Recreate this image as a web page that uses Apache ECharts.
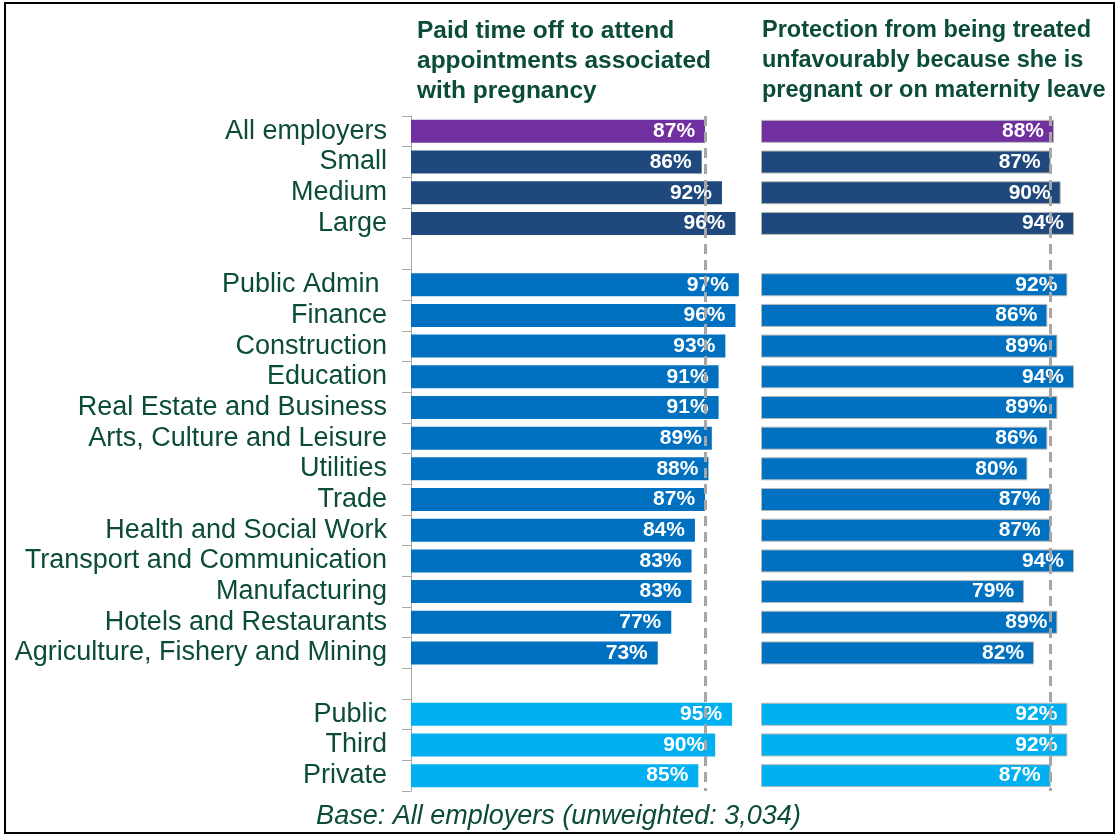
<!DOCTYPE html>
<html>
<head>
<meta charset="utf-8">
<script src="https://cdn.jsdelivr.net/npm/echarts@6/dist/echarts.min.js"></script>
<style>
html,body{margin:0;padding:0;background:#fff;}
#chart{width:1117px;height:837px;}
</style>
</head>
<body>
<div id="chart"></div>
<script>
// ---- data ----
const categories = [
  'All employers', 'Small', 'Medium', 'Large', ' ',
  'Public Admin ', 'Finance', 'Construction', 'Education', 'Real Estate and Business',
  'Arts, Culture and Leisure', 'Utilities', 'Trade', 'Health and Social Work',
  'Transport and Communication', 'Manufacturing', 'Hotels and Restaurants',
  'Agriculture, Fishery and Mining', '  ',
  'Public', 'Third', 'Private'
];
const paidTimeOff = [87, 86, 92, 96, null, 97, 96, 93, 91, 91, 89, 88, 87, 84, 83, 83, 77, 73, null, 95, 90, 85];
const protection  = [88, 87, 90, 94, null, 92, 86, 89, 94, 89, 86, 80, 87, 87, 94, 79, 89, 82, null, 92, 92, 87];
const groups      = ['all', 'size', 'size', 'size', null,
  'sector', 'sector', 'sector', 'sector', 'sector', 'sector', 'sector', 'sector', 'sector',
  'sector', 'sector', 'sector', 'sector', null, 'type', 'type', 'type'];
const referenceLines = [87, 87];
const panelTitles = [
  'Paid time off to attend\nappointments associated\nwith pregnancy',
  'Protection from being treated\nunfavourably because she is\npregnant or on maternity leave'
];
const footnote = 'Base: All employers (unweighted: 3,034)';

// ---- styling ----
const groupColors = { all: '#7030A0', size: '#1F497D', sector: '#0070C0', type: '#00B0F0' };
const textColor = '#0B4B3A';
const font = '"Liberation Sans", Arial, sans-serif';

function barData(values, withBorder) {
  return values.map((v, i) => v == null ? null : ({
    value: v,
    itemStyle: Object.assign({ color: groupColors[groups[i]] },
      withBorder ? { borderColor: '#B8B8B8', borderWidth: 1 } : {})
  }));
}

const labelCfg = {
  show: true, position: 'insideRight', distance: 10,
  color: '#fff', fontWeight: 'bold', fontSize: 21, fontFamily: font,
  formatter: p => p.value + '%'
};

function refLine(v) {
  return {
    silent: true, symbol: 'none', animation: false,
    label: { show: false },
    lineStyle: { color: '#A6A6A6', type: [10, 6], width: 3 },
    data: [{ xAxis: v }]
  };
}

const chart = echarts.init(document.getElementById('chart'), null, { renderer: 'canvas' });
chart.setOption({
  animation: false,
  backgroundColor: '#fff',
  grid: [
    { left: 411, top: 116, width: 338, height: 675 },
    { left: 761, top: 116, width: 333, height: 675 }
  ],
  xAxis: [
    { gridIndex: 0, type: 'value', min: 0, max: 100, show: false },
    { gridIndex: 1, type: 'value', min: 0, max: 100, show: false }
  ],
  yAxis: [
    {
      gridIndex: 0, type: 'category', data: categories, inverse: true,
      axisLine: { show: true, lineStyle: { color: '#A6A6A6', width: 1 } },
      axisTick: { show: true, interval: 0, length: 9, alignWithLabel: false, lineStyle: { color: '#A6A6A6' } },
      axisLabel: { interval: 0, margin: 24, color: textColor, fontSize: 27, fontFamily: font, padding: [2, 0, 0, 0] }
    },
    {
      gridIndex: 1, type: 'category', data: categories, inverse: true,
      axisLine: { show: false }, axisTick: { show: false }, axisLabel: { show: false }
    }
  ],
  series: [
    {
      type: 'bar', xAxisIndex: 0, yAxisIndex: 0, barWidth: 23,
      data: barData(paidTimeOff, false), label: labelCfg,
      markLine: refLine(referenceLines[0])
    },
    {
      type: 'bar', xAxisIndex: 1, yAxisIndex: 1, barWidth: 23,
      data: barData(protection, true), label: labelCfg,
      markLine: refLine(referenceLines[1])
    }
  ],
  graphic: [
    { type: 'rect', shape: { x: 5, y: 3, width: 1109, height: 830 },
      style: { fill: 'none', stroke: '#000', lineWidth: 2 }, silent: true },
    { type: 'text', left: 417, top: 16,
      style: { text: panelTitles[0], font: 'bold 24.5px ' + font, fill: textColor, lineHeight: 30 } },
    { type: 'text', left: 762, top: 16,
      style: { text: panelTitles[1], font: 'bold 23.5px ' + font, fill: textColor, lineHeight: 30 } },
    { type: 'text', left: 'center', top: 803,
      style: { text: footnote, font: 'italic 27px ' + font, fill: textColor } }
  ]
});
</script>
</body>
</html>
